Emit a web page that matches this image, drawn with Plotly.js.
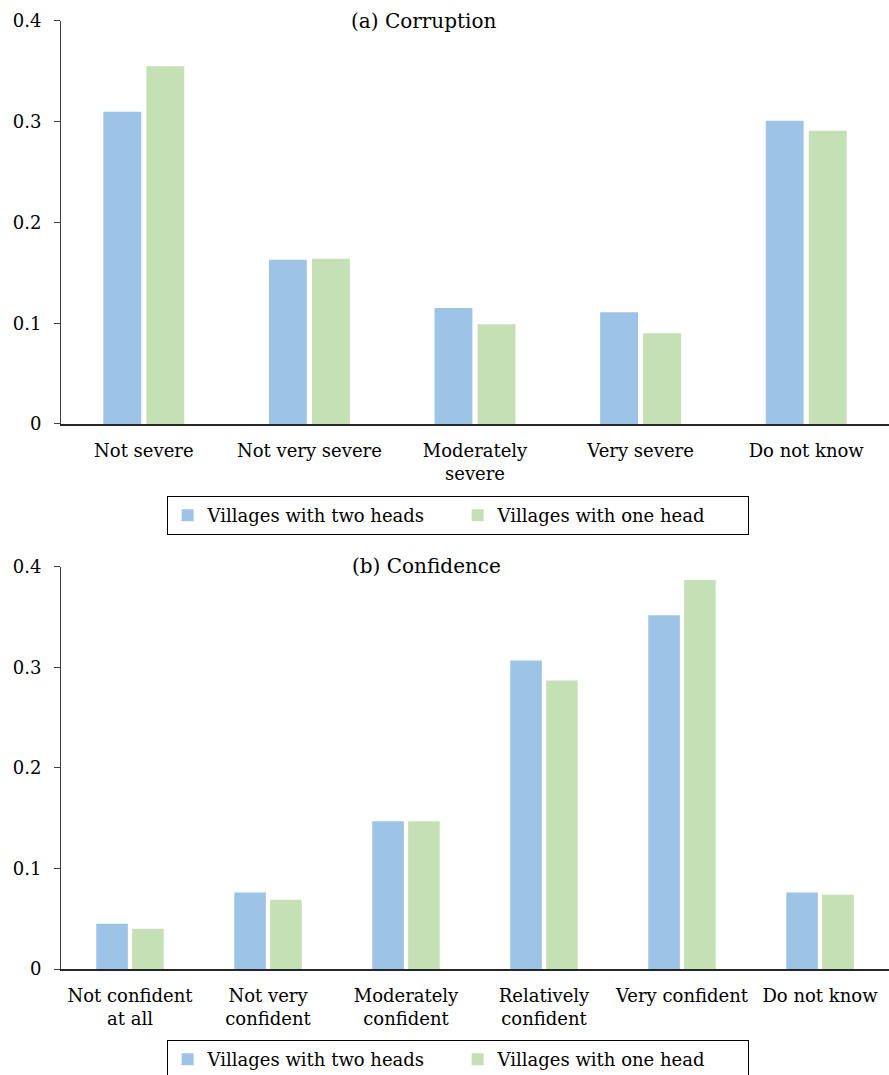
<!DOCTYPE html>
<html>
<head>
<meta charset="utf-8">
<script src="https://cdn.plot.ly/plotly-3.0.1.min.js"></script>
<style>html,body{margin:0;padding:0;background:#fff}#chart{width:889px;height:1075px}</style>
</head>
<body>
<div id="chart"></div>
<script>
const corruptionCategories = ["Not severe", "Not very severe", "Moderately<br>severe", "Very severe", "Do not know"];
const corruptionTwoHeads = [0.310, 0.163, 0.115, 0.111, 0.301];
const corruptionOneHead = [0.355, 0.164, 0.099, 0.090, 0.291];

const confidenceCategories = ["Not confident<br>at all", "Not very<br>confident", "Moderately<br>confident", "Relatively<br>confident", "Very confident", "Do not know"];
const confidenceTwoHeads = [0.045, 0.076, 0.147, 0.307, 0.352, 0.076];
const confidenceOneHead = [0.040, 0.069, 0.147, 0.287, 0.387, 0.074];

const seriesNames = ["Villages with two heads", "Villages with one head"];
const yTickVals = [0, 0.1, 0.2, 0.3, 0.4];
const yTickText = ["0", "0.1", "0.2", "0.3", "0.4"];

const BLUE = "#9DC3E6", GREEN = "#C5E0B4";
const FONT = "DejaVu Serif";

const traces = [
  {type: "bar", x: corruptionCategories, y: corruptionTwoHeads, name: seriesNames[0], marker: {color: BLUE}, xaxis: "x", yaxis: "y", legend: "legend"},
  {type: "bar", x: corruptionCategories, y: corruptionOneHead, name: seriesNames[1], marker: {color: GREEN}, xaxis: "x", yaxis: "y", legend: "legend"},
  {type: "bar", x: confidenceCategories, y: confidenceTwoHeads, name: seriesNames[0], marker: {color: BLUE}, xaxis: "x2", yaxis: "y2", legend: "legend2"},
  {type: "bar", x: confidenceCategories, y: confidenceOneHead, name: seriesNames[1], marker: {color: GREEN}, xaxis: "x2", yaxis: "y2", legend: "legend2"}
];

const yAxisCommon = {
  range: [0, 0.4], tickvals: yTickVals, ticktext: yTickText,
  showline: true, linecolor: "#404040", linewidth: 1,
  ticks: "outside", ticklen: 6, tickcolor: "#404040", ticklabelstandoff: 9,
  showgrid: false, zeroline: false, fixedrange: true,
  tickfont: {family: FONT, size: 18, color: "#000"}
};
const xAxisCommon = {
  domain: [0, 1], showline: true, linecolor: "#262626", linewidth: 2,
  ticks: "", showgrid: false, fixedrange: true, ticklabelstandoff: 9,
  tickfont: {family: FONT, size: 18, color: "#000"}, tickangle: 0
};
const legendCommon = {
  orientation: "h", xanchor: "center", yanchor: "top", x: 0.479,
  bordercolor: "#000", borderwidth: 1, bgcolor: "#fff",
  font: {family: FONT, size: 18, color: "#000"},
  entrywidth: 245, entrywidthmode: "pixels", itemclick: false, itemdoubleclick: false
};

const layout = {
  width: 889, height: 1075,
  margin: {l: 61, r: 0, t: 0, b: 0, autoexpand: false},
  paper_bgcolor: "#fff", plot_bgcolor: "#fff",
  bargap: 0.48, bargroupgap: 0.12, barmode: "group",
  font: {family: FONT, color: "#000"},
  xaxis: Object.assign({}, xAxisCommon, {anchor: "y"}),
  yaxis: Object.assign({}, yAxisCommon, {domain: [0.6056, 0.9805], anchor: "x"}),
  xaxis2: Object.assign({}, xAxisCommon, {anchor: "y2"}),
  yaxis2: Object.assign({}, yAxisCommon, {domain: [0.0986, 0.4726], anchor: "x2"}),
  legend: Object.assign({}, legendCommon, {y: 0.5386}),
  legend2: Object.assign({}, legendCommon, {y: 0.0326}),
  annotations: [
    {text: "(a) Corruption", xref: "paper", yref: "paper", x: 0.438, y: 0.9805, xanchor: "center", yanchor: "middle", showarrow: false, font: {family: FONT, size: 20, color: "#000"}},
    {text: "(b) Confidence", xref: "paper", yref: "paper", x: 0.441, y: 0.4735, xanchor: "center", yanchor: "middle", showarrow: false, font: {family: FONT, size: 20, color: "#000"}}
  ],
  showlegend: true
};

Plotly.newPlot("chart", traces, layout, {displayModeBar: false, staticPlot: true});
</script>
</body>
</html>
